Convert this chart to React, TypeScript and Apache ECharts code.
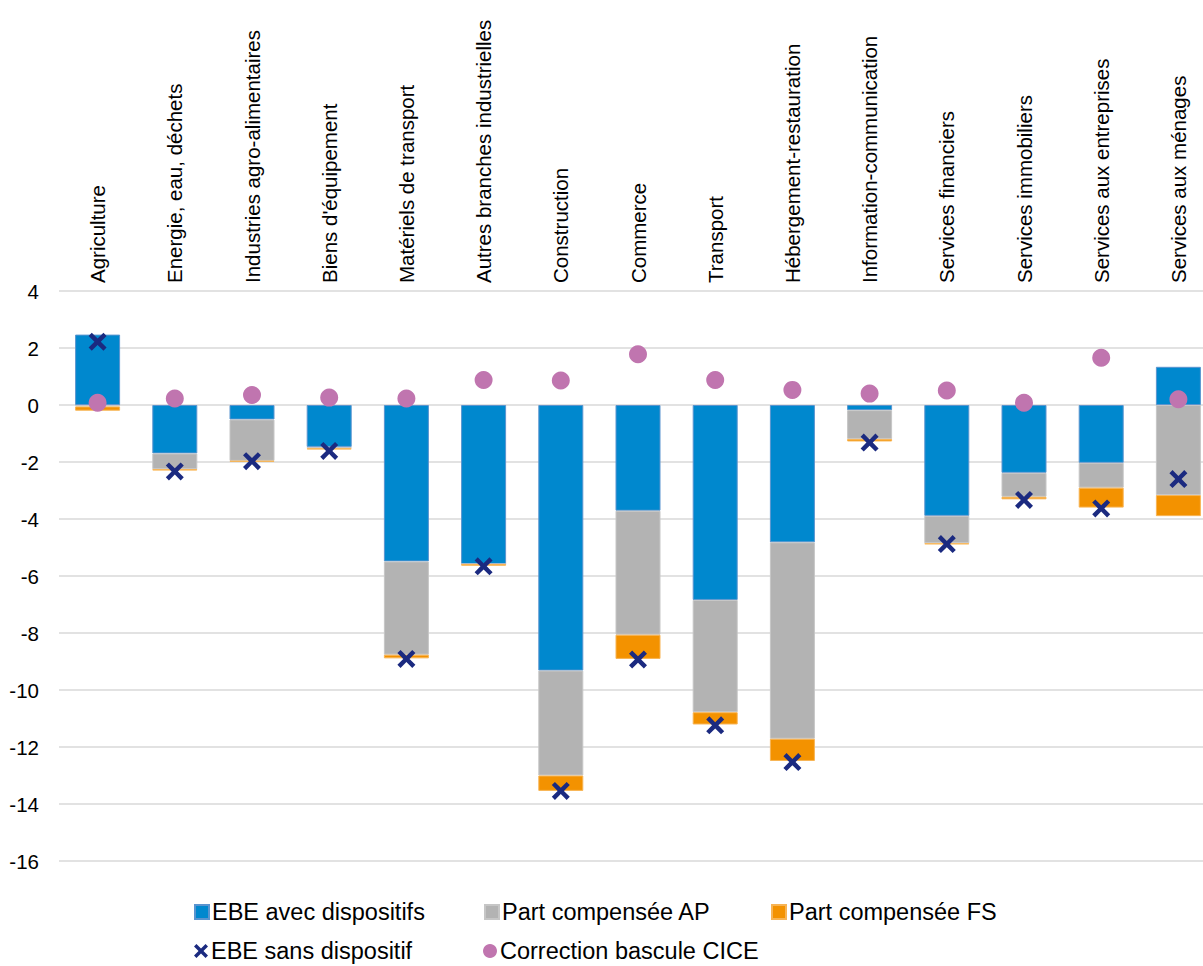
import React, { useEffect, useRef } from "react";
import * as echarts from "echarts";

const categories = [
  "Agriculture",
  "Energie, eau, déchets",
  "Industries agro-alimentaires",
  "Biens d'équipement",
  "Matériels de transport",
  "Autres branches industrielles",
  "Construction",
  "Commerce",
  "Transport",
  "Hébergement-restauration",
  "Information-communication",
  "Services financiers",
  "Services immobiliers",
  "Services aux entreprises",
  "Services aux ménages",
];

const ebeAvec = [2.47, -1.7, -0.51, -1.47, -5.49, -5.58, -9.32, -3.71, -6.84, -4.82, -0.18, -3.89, -2.38, -2.03, 1.34];
const partAP = [-0.05, -0.55, -1.45, -0.05, -3.27, 0, -3.68, -4.35, -3.94, -6.89, -1.01, -0.96, -0.84, -0.87, -3.16];
const partFS = [-0.15, -0.05, -0.03, -0.04, -0.13, -0.06, -0.54, -0.85, -0.43, -0.78, -0.09, -0.04, -0.09, -0.7, -0.74];
const ebeSans = [2.22, -2.33, -1.97, -1.61, -8.91, -5.66, -13.54, -8.93, -11.24, -12.53, -1.32, -4.88, -3.33, -3.63, -2.6];
const cice = [0.08, 0.23, 0.35, 0.26, 0.23, 0.88, 0.86, 1.78, 0.88, 0.53, 0.4, 0.51, 0.08, 1.66, 0.2];

const yTicks = { min: -16, max: 4, interval: 2 };

const FONT = "'Liberation Sans', Arial, sans-serif";
const X_PATH =
  "path://M3.5,0 L10,6.5 L16.5,0 L20,3.5 L13.5,10 L20,16.5 L16.5,20 L10,13.5 L3.5,20 L0,16.5 L6.5,10 L0,3.5 Z";

export default function App() {
  const ref = useRef<HTMLDivElement>(null);

  useEffect(() => {
    if (!ref.current) return;
    const chart = echarts.init(ref.current, undefined, { renderer: "svg" });
    const legendText = { color: "#000", fontSize: 23.5, fontFamily: FONT };
    const mkLegend = (name: string, left: number, top: number, icon?: string) => ({
      data: [icon ? { name, icon } : { name }],
      left,
      top,
      padding: 0,
      itemWidth: 14,
      itemHeight: 14,
      itemGap: 0,
      textStyle: { ...legendText, padding: [0, 0, 0, -2] },
      selectedMode: false,
    });
    chart.setOption({
      animation: false,
      backgroundColor: "#fff",
      textStyle: { fontFamily: FONT },
      grid: { left: 59, right: 0, top: 291, bottom: 105, containLabel: false },
      legend: [
        mkLegend("EBE avec dispositifs", 194, 900, "rect"),
        mkLegend("Part compensée AP", 484, 900, "rect"),
        mkLegend("Part compensée FS", 771, 900, "rect"),
        mkLegend("EBE sans dispositif", 194, 939),
        mkLegend("Correction bascule CICE", 483, 939),
      ],
      xAxis: {
        type: "category",
        data: categories,
        position: "top",
        axisLine: { show: false },
        axisTick: { show: false },
        axisLabel: {
          rotate: 90,
          interval: 0,
          margin: 8,
          color: "#000",
          fontSize: 20.5,
          fontFamily: FONT,
        },
      },
      yAxis: {
        type: "value",
        min: yTicks.min,
        max: yTicks.max,
        interval: yTicks.interval,
        axisLine: { show: false },
        axisTick: { show: false },
        axisLabel: { color: "#000", fontSize: 20.5, margin: 20, fontFamily: FONT },
        splitLine: { lineStyle: { color: "#D9D9D9", width: 1.5 } },
      },
      series: [
        {
          name: "EBE avec dispositifs",
          type: "bar",
          stack: "s",
          barWidth: 45,
          data: ebeAvec,
          itemStyle: { color: "#0088CE", borderColor: "#5A94CF", borderWidth: 1 },
        },
        {
          name: "Part compensée AP",
          type: "bar",
          stack: "s",
          barWidth: 45,
          data: partAP,
          itemStyle: { color: "#B3B3B3", borderColor: "#C6C6C6", borderWidth: 1 },
        },
        {
          name: "Part compensée FS",
          type: "bar",
          stack: "s",
          barWidth: 45,
          data: partFS,
          itemStyle: { color: "#F39200", borderColor: "#F7B455", borderWidth: 1 },
        },
        {
          name: "EBE sans dispositif",
          type: "scatter",
          symbol: X_PATH,
          symbolSize: 18,
          data: ebeSans,
          itemStyle: { color: "#1B2A80", opacity: 1 },
          z: 4,
        },
        {
          name: "Correction bascule CICE",
          type: "scatter",
          symbol: "circle",
          symbolSize: 18,
          data: cice,
          itemStyle: { color: "#C075AF", opacity: 1 },
          z: 3,
        },
      ],
    });
    return () => chart.dispose();
  }, []);

  return (
    <div
      style={{
        position: "absolute",
        left: 0,
        top: 0,
        width: 1203,
        height: 966,
        overflow: "hidden",
        background: "#fff",
      }}
    >
      <div ref={ref} style={{ width: 1217, height: 966 }} />
    </div>
  );
}
